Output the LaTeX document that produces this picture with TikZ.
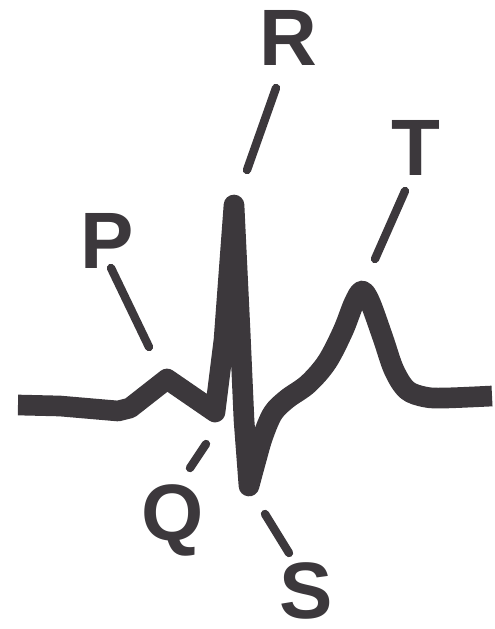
\documentclass[tikz,border=0pt]{standalone}
\usepackage{fontspec}
\setmainfont{Liberation Sans}
\definecolor{ink}{RGB}{60,56,60}
\begin{document}
\begin{tikzpicture}[x=0.75pt,y=-0.75pt,
  ecg/.style={draw=ink,line width=15.5pt,line join=round,line cap=butt},
  leader/.style={draw=ink,line width=6.3pt,line cap=round},
  lab/.style={text=ink,inner sep=0pt,anchor=base,font=\fontsize{60}{60}\selectfont\bfseries}]
\useasboundingbox (0,0) rectangle (495,629);
% labels
\node[lab] (P) at (107,268) {P};
\node[lab] (R) at (288,65) {R};
\node[lab] (T) at (416,175) {T};
\node[lab] (Q) at (173,540) {Q};
\node[lab] (S) at (306,618) {S};
% wave landmarks
\coordinate (start) at (18,405);
\coordinate (ppeak) at (167,379);
\coordinate (qpt) at (215,412);
\coordinate (rpeak) at (234,205);
\coordinate (spt) at (249,486);
\coordinate (tpeak) at (362,291);
\coordinate (finish) at (492,396);
% ECG trace
\draw[ecg] (start) -- (60,406) -- (118,411) -- (130,408) -- (ppeak) -- (qpt)
  -- (224,340) -- (rpeak) -- (240,330) -- (244,420) -- (spt)
  -- plot[smooth,tension=0.55] coordinates {(spt) (256,460) (263,436) (273,413) (287,399) (308,384) (327,362) (343,331) (354,303) (tpeak) (370,302) (383,338) (394,370) (407,390) (425,397) (445,398) (finish)};
% leader lines
\coordinate (Pa) at (111,268); \coordinate (Pb) at (149,347);
\coordinate (Ra) at (276,88);  \coordinate (Rb) at (247,170);
\coordinate (Ta) at (405,191); \coordinate (Tb) at (375,259);
\coordinate (Qa) at (206,444); \coordinate (Qb) at (190,468);
\coordinate (Sa) at (265,514); \coordinate (Sb) at (289,553);
\draw[leader] (Pa) -- (Pb);
\draw[leader] (Ra) -- (Rb);
\draw[leader] (Ta) -- (Tb);
\draw[leader] (Qa) -- (Qb);
\draw[leader] (Sa) -- (Sb);
\end{tikzpicture}
\end{document}
